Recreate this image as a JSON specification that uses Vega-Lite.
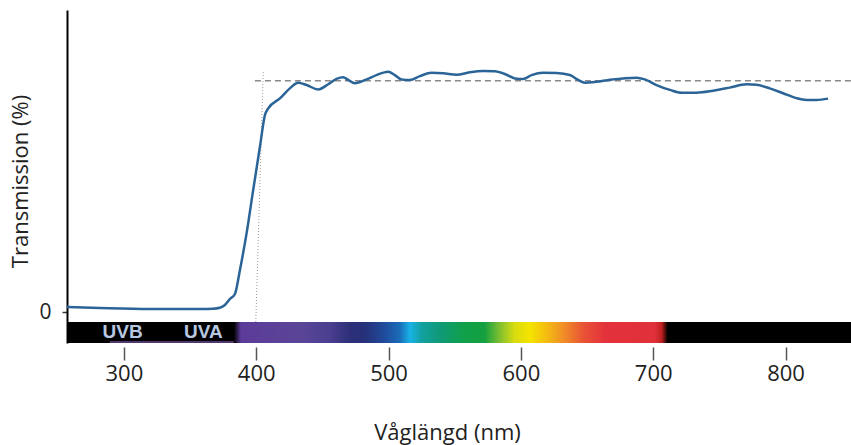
{
  "$schema": "https://vega.github.io/schema/vega-lite/v6.json",
  "autosize": "none",
  "width": 784,
  "height": 333,
  "padding": {"left": 67, "top": 10, "right": 0, "bottom": 102},
  "background": "white",
  "config": {"view": {"stroke": null}, "font": "Open Sans"},
  "datasets": {
    "curve": [
      {"nm": 257, "T": 2.05}, {"nm": 281.9, "T": 1.66}, {"nm": 319.6, "T": 1.27}, {"nm": 357.4, "T": 1.27},
      {"nm": 367.3, "T": 1.39}, {"nm": 372.5, "T": 1.78}, {"nm": 376.3, "T": 2.83}, {"nm": 380.1, "T": 5.18},
      {"nm": 383.9, "T": 7.13}, {"nm": 387.7, "T": 16.5}, {"nm": 392.7, "T": 30.8}, {"nm": 397.7, "T": 47.7},
      {"nm": 402.8, "T": 64.6}, {"nm": 406.6, "T": 77.0}, {"nm": 409.1, "T": 79.6}, {"nm": 417.9, "T": 83.5},
      {"nm": 425.4, "T": 87.4}, {"nm": 431.7, "T": 89.6}, {"nm": 438.1, "T": 88.7}, {"nm": 446.8, "T": 87.0},
      {"nm": 454.4, "T": 89.0}, {"nm": 460.7, "T": 91.1}, {"nm": 465.7, "T": 91.7}, {"nm": 469.5, "T": 90.7},
      {"nm": 474.5, "T": 89.4}, {"nm": 483.4, "T": 90.9}, {"nm": 490.9, "T": 92.6}, {"nm": 499.7, "T": 93.9},
      {"nm": 504.8, "T": 92.6}, {"nm": 509.8, "T": 90.9}, {"nm": 516.1, "T": 90.7}, {"nm": 523.7, "T": 92.2},
      {"nm": 532.5, "T": 93.5}, {"nm": 541.3, "T": 93.3}, {"nm": 551.4, "T": 92.7}, {"nm": 561.4, "T": 93.7},
      {"nm": 571.5, "T": 94.2}, {"nm": 580.3, "T": 94.1}, {"nm": 587.9, "T": 93.0}, {"nm": 595.5, "T": 91.3},
      {"nm": 601.7, "T": 91.1}, {"nm": 608.1, "T": 92.6}, {"nm": 616.8, "T": 93.5}, {"nm": 627.0, "T": 93.4},
      {"nm": 637.0, "T": 92.6}, {"nm": 643.3, "T": 90.7}, {"nm": 648.4, "T": 89.6}, {"nm": 657.2, "T": 90.0},
      {"nm": 667.3, "T": 90.8}, {"nm": 677.3, "T": 91.3}, {"nm": 687.4, "T": 91.6}, {"nm": 693.7, "T": 90.9},
      {"nm": 702.5, "T": 88.7}, {"nm": 712.6, "T": 86.8}, {"nm": 721.4, "T": 85.7}, {"nm": 732.7, "T": 85.7},
      {"nm": 745.3, "T": 86.5}, {"nm": 757.9, "T": 87.7}, {"nm": 770.5, "T": 89.0}, {"nm": 778.0, "T": 88.8},
      {"nm": 788.1, "T": 87.4}, {"nm": 798.1, "T": 85.5}, {"nm": 808.2, "T": 83.6}, {"nm": 815.8, "T": 82.9},
      {"nm": 823.3, "T": 82.9}, {"nm": 832.2, "T": 83.4}
    ],
    "ref": [{"nm": 399, "nm2": 849.5, "T": 90.4}],
    "marker": [{"nm": 405.3, "T": 93.9}, {"nm": 399.7, "T": -3.8}],
    "band": [{"nm": 257, "nm2": 849.5, "T": -3.8, "T2": -12}],
    "spectrum": [{"nm": 383.1, "nm2": 711, "T": -3.8, "T2": -12}],
    "uvline": [{"nm": 289.4, "nm2": 383, "T": -11.6}],
    "uvlabels": [{"nm": 299, "T": -7.7, "label": "UVB"}, {"nm": 360, "T": -7.7, "label": "UVA"}]
  },
  "encoding": {
    "x": {
      "field": "nm", "type": "quantitative",
      "scale": {"domain": [257, 849.5], "nice": false, "zero": false},
      "axis": {
        "values": [300, 400, 500, 600, 700, 800], "format": "d", "grid": false,
        "domain": false, "offset": 4, "tickSize": 13, "tickColor": "#555", "tickWidth": 1.5,
        "labelFontSize": 22, "labelColor": "#222", "labelPadding": 3,
        "title": "Våglängd (nm)", "titleFontSize": 22, "titleFontWeight": "normal", "titleColor": "#222",
        "titleX": 380, "titleY": 85, "titleBaseline": "middle", "titleAlign": "center"
      }
    },
    "y": {
      "field": "T", "type": "quantitative",
      "scale": {"domain": [-12, 118], "nice": false, "zero": false},
      "axis": {
        "values": [0], "grid": false, "domainColor": "#000", "domainWidth": 2,
        "tickColor": "#333", "tickSize": 5, "tickWidth": 1.5,
        "labelFontSize": 21, "labelColor": "#222", "labelPadding": 11,
        "title": "Transmission (%)", "titleFontSize": 22, "titleFontWeight": "normal", "titleColor": "#222",
        "titleX": -47, "titleY": 171, "titleAngle": -90, "titleBaseline": "middle", "titleAlign": "center"
      }
    }
  },
  "layer": [
    {
      "data": {"name": "band"},
      "mark": {"type": "rect", "color": "#000"},
      "encoding": {"x2": {"field": "nm2"}, "y2": {"field": "T2"}}
    },
    {
      "data": {"name": "spectrum"},
      "mark": {
        "type": "rect",
        "color": {
          "gradient": "linear", "x1": 0, "x2": 1, "y1": 0, "y2": 0,
          "stops": [
            {"offset": 0, "color": "#000000"},
            {"offset": 0.016, "color": "#5c3b99"},
            {"offset": 0.152, "color": "#5b4597"},
            {"offset": 0.221, "color": "#4a3f90"},
            {"offset": 0.267, "color": "#2d2f78"},
            {"offset": 0.302, "color": "#27307a"},
            {"offset": 0.348, "color": "#1f4c9c"},
            {"offset": 0.382, "color": "#1a6cb8"},
            {"offset": 0.406, "color": "#19b2e6"},
            {"offset": 0.433, "color": "#12a0a0"},
            {"offset": 0.475, "color": "#0f9a78"},
            {"offset": 0.532, "color": "#10a048"},
            {"offset": 0.578, "color": "#14a040"},
            {"offset": 0.613, "color": "#80c030"},
            {"offset": 0.647, "color": "#d8dc10"},
            {"offset": 0.682, "color": "#f5e400"},
            {"offset": 0.717, "color": "#f4c010"},
            {"offset": 0.763, "color": "#f08a28"},
            {"offset": 0.809, "color": "#e85036"},
            {"offset": 0.855, "color": "#e4323c"},
            {"offset": 0.97, "color": "#e0303a"},
            {"offset": 0.986, "color": "#c02020"},
            {"offset": 1, "color": "#000000"}
          ]
        }
      },
      "encoding": {"x2": {"field": "nm2"}, "y2": {"field": "T2"}}
    },
    {
      "data": {"name": "uvline"},
      "mark": {"type": "rule", "color": "#a070d8", "strokeWidth": 1.2},
      "encoding": {"x2": {"field": "nm2"}}
    },
    {
      "data": {"name": "uvlabels"},
      "mark": {"type": "text", "font": "Liberation Sans", "fontWeight": "bold", "fontSize": 19, "color": "#b8c8e0", "baseline": "middle", "align": "center"},
      "encoding": {"text": {"field": "label"}}
    },
    {
      "data": {"name": "ref"},
      "mark": {"type": "rule", "color": "#8a8a8a", "strokeWidth": 1.5, "strokeDash": [6, 4]},
      "encoding": {"x2": {"field": "nm2"}}
    },
    {
      "data": {"name": "marker"},
      "mark": {"type": "line", "color": "#999", "strokeWidth": 1, "strokeDash": [1, 2]},
      "encoding": {}
    },
    {
      "data": {"name": "curve"},
      "mark": {"type": "line", "color": "#2b6497", "strokeWidth": 2.5, "interpolate": "monotone"},
      "encoding": {}
    }
  ]
}
